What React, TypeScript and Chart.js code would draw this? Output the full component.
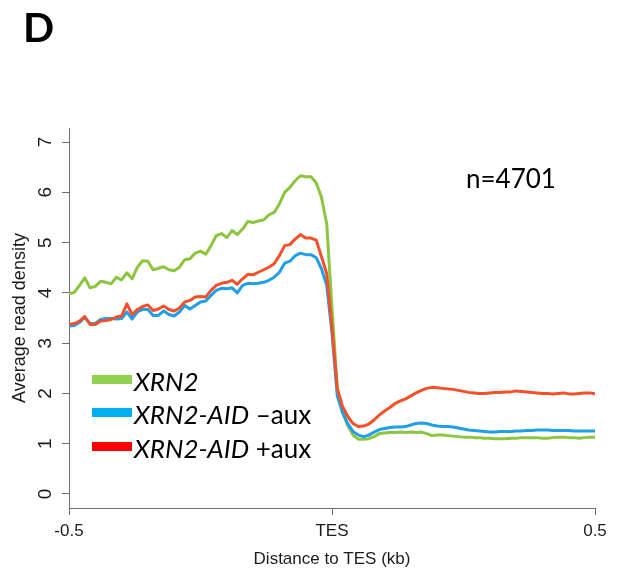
import React, { useEffect, useRef } from "react";
import { Chart, registerables } from "chart.js";

Chart.register(...registerables);

// 10-bp bins from -0.5 kb to +0.5 kb around the TES
const binPositions = Array.from({ length: 101 }, (_, i) => Math.round((-0.5 + i * 0.01) * 100) / 100);

const xrn2 = [
  3.98, 4.01, 4.15, 4.30, 4.10, 4.13, 4.23, 4.21, 4.18, 4.31,
  4.26, 4.40, 4.28, 4.51, 4.64, 4.63, 4.46, 4.49, 4.52, 4.46,
  4.44, 4.51, 4.66, 4.68, 4.79, 4.83, 4.77, 4.94, 5.14, 5.18,
  5.10, 5.24, 5.16, 5.27, 5.42, 5.40, 5.43, 5.45, 5.55, 5.60,
  5.77, 6.00, 6.10, 6.23, 6.33, 6.31, 6.31, 6.19, 5.90, 5.37,
  3.70, 2.10, 1.62, 1.36, 1.17, 1.09, 1.09, 1.10, 1.14, 1.20,
  1.21, 1.22, 1.22, 1.23, 1.22, 1.23, 1.22, 1.23, 1.20, 1.16,
  1.17, 1.17, 1.16, 1.15, 1.14, 1.13, 1.13, 1.12, 1.12, 1.11,
  1.11, 1.10, 1.10, 1.10, 1.11, 1.11, 1.12, 1.12, 1.12, 1.12,
  1.11, 1.11, 1.12, 1.13, 1.13, 1.12, 1.12, 1.11, 1.12, 1.13,
  1.13,
];

const xrn2AidMinusAux = [
  3.34, 3.35, 3.41, 3.51, 3.39, 3.39, 3.47, 3.49, 3.49, 3.48,
  3.49, 3.62, 3.48, 3.62, 3.67, 3.67, 3.55, 3.55, 3.64, 3.57,
  3.54, 3.62, 3.75, 3.68, 3.75, 3.82, 3.84, 3.95, 4.05, 4.09,
  4.08, 4.10, 4.00, 4.15, 4.19, 4.18, 4.19, 4.21, 4.25, 4.31,
  4.41, 4.59, 4.63, 4.74, 4.79, 4.76, 4.76, 4.70, 4.48, 4.15,
  3.20, 1.95, 1.62, 1.40, 1.24, 1.17, 1.14, 1.17, 1.23, 1.28,
  1.30, 1.32, 1.33, 1.33, 1.34, 1.37, 1.40, 1.41, 1.40, 1.37,
  1.35, 1.34, 1.34, 1.33, 1.31, 1.29, 1.27, 1.26, 1.25, 1.24,
  1.23, 1.23, 1.24, 1.24, 1.24, 1.25, 1.25, 1.26, 1.26, 1.27,
  1.27, 1.27, 1.26, 1.26, 1.26, 1.26, 1.25, 1.25, 1.25, 1.25,
  1.25,
];

const xrn2AidPlusAux = [
  3.37, 3.39, 3.44, 3.53, 3.37, 3.37, 3.44, 3.45, 3.47, 3.52,
  3.54, 3.78, 3.57, 3.67, 3.73, 3.76, 3.65, 3.68, 3.74, 3.67,
  3.64, 3.70, 3.82, 3.85, 3.92, 3.93, 3.92, 4.05, 4.15, 4.19,
  4.21, 4.25, 4.17, 4.28, 4.37, 4.36, 4.41, 4.46, 4.51, 4.58,
  4.74, 4.94, 4.96, 5.07, 5.16, 5.09, 5.09, 5.05, 4.72, 4.38,
  3.30, 2.10, 1.74, 1.54, 1.40, 1.34, 1.35, 1.39, 1.47, 1.57,
  1.65, 1.72, 1.80, 1.85, 1.89, 1.95, 2.01, 2.06, 2.10, 2.12,
  2.11, 2.10, 2.09, 2.08, 2.06, 2.04, 2.02, 2.01, 2.00, 2.00,
  2.01, 2.02, 2.02, 2.03, 2.03, 2.05, 2.04, 2.03, 2.02, 2.01,
  2.00, 2.00, 1.99, 2.00, 2.01, 1.99, 1.99, 2.00, 2.01, 2.01,
  1.99,
];

const yTickValues = [0, 1, 2, 3, 4, 5, 6, 7];
const xTickValues = [-0.5, 0, 0.5];
const xTickLabels = ["-0.5", "TES", "0.5"];

const lineGreen = "#8CC540";
const lineBlue = "#1F9FE8";
const lineRed = "#F4502A";
const axisGray = "#6e6e6e";
const textDark = "#1c1c1c";

const pairs = (ys: number[]) => binPositions.map((x, i) => ({ x, y: ys[i] }));

const legendRows = [
  { color: "#92D050", top: 366, italic: "XRN2", plain: "" },
  { color: "#00B0F0", top: 399, italic: "XRN2-AID", plain: " \u2013aux" },
  { color: "#FF0000", top: 433, italic: "XRN2-AID", plain: " +aux" },
];

export default function App() {
  const canvasRef = useRef<HTMLCanvasElement | null>(null);

  useEffect(() => {
    const canvas = canvasRef.current;
    if (!canvas) return;
    Chart.defaults.font.family = "'Liberation Sans', Arial, sans-serif";

    const chart = new Chart(canvas, {
      type: "line",
      data: {
        datasets: [
          { label: "XRN2-AID +aux", data: pairs(xrn2AidPlusAux), borderColor: lineRed },
          { label: "XRN2-AID -aux", data: pairs(xrn2AidMinusAux), borderColor: lineBlue },
          { label: "XRN2", data: pairs(xrn2), borderColor: lineGreen },
        ].map((d) => ({
          ...d,
          borderWidth: 3,
          pointRadius: 0,
          tension: 0,
          fill: false,
          borderJoinStyle: "round" as const,
        })),
      },
      options: {
        responsive: false,
        animation: false,
        layout: { padding: { top: 128, right: 27, left: 0, bottom: 0 } },
        plugins: { legend: { display: false }, tooltip: { enabled: false } },
        scales: {
          x: {
            type: "linear",
            min: -0.5,
            max: 0.5,
            afterBuildTicks: (s: any) => {
              s.ticks = xTickValues.map((value) => ({ value }));
            },
            afterFit: (s: any) => {
              s.height = 71;
            },
            ticks: {
              color: textDark,
              font: { size: 17 },
              padding: 6,
              maxRotation: 0,
              callback: (_v: any, i: number) => xTickLabels[i],
            },
            grid: { drawOnChartArea: false, drawTicks: true, tickLength: 7, color: axisGray },
            border: { display: true, color: axisGray, width: 1 },
            title: {
              display: true,
              text: "Distance to TES (kb)",
              color: textDark,
              font: { size: 17 },
              padding: { top: 0, bottom: 9 },
            },
          },
          y: {
            type: "linear",
            min: -0.28,
            max: 7.28,
            afterBuildTicks: (s: any) => {
              s.ticks = yTickValues.map((value) => ({ value }));
            },
            afterFit: (s: any) => {
              s.width = 69;
            },
            ticks: {
              color: textDark,
              font: { size: 19 },
              padding: 11,
              minRotation: 90,
              maxRotation: 90,
              crossAlign: "center",
            },
            grid: { drawOnChartArea: false, drawTicks: true, tickLength: 7, color: axisGray },
            border: { display: true, color: axisGray, width: 1 },
            title: {
              display: true,
              text: "Average read density",
              color: textDark,
              font: { size: 18 },
              padding: { top: 9, bottom: 0 },
            },
          },
        },
      },
    });
    return () => chart.destroy();
  }, []);

  return (
    <div style={{ position: "fixed", left: 0, top: 0, width: 622, height: 579, background: "#fff", overflow: "hidden" }}>
      <canvas ref={canvasRef} width={622} height={579} style={{ position: "absolute", left: 0, top: 0, width: 622, height: 579 }} />
      <div
        style={{
          position: "absolute",
          left: 23,
          top: 2,
          fontFamily: "Lato, 'Open Sans', sans-serif",
          fontWeight: 700,
          fontSize: 41,
          lineHeight: "49px",
          color: "#000",
        }}
      >
        D
      </div>
      <div
        style={{
          position: "absolute",
          left: 466,
          top: 163,
          fontFamily: "Lato, 'Open Sans', sans-serif",
          fontSize: 26,
          lineHeight: "30px",
          color: "#000",
          whiteSpace: "nowrap",
        }}
      >
        n=4701
      </div>
      {legendRows.map((r) => (
        <div
          key={r.color}
          style={{
            position: "absolute",
            left: 92,
            top: r.top,
            height: 30,
            display: "flex",
            alignItems: "center",
            whiteSpace: "nowrap",
            fontFamily: "Lato, 'Open Sans', sans-serif",
            fontSize: 26,
            lineHeight: "30px",
            color: "#000",
          }}
        >
          <span style={{ display: "inline-block", width: 40, height: 9, background: r.color, marginRight: 2, marginTop: -3 }} />
          <span>
            <i>{r.italic}</i>
            {r.plain}
          </span>
        </div>
      ))}
    </div>
  );
}
